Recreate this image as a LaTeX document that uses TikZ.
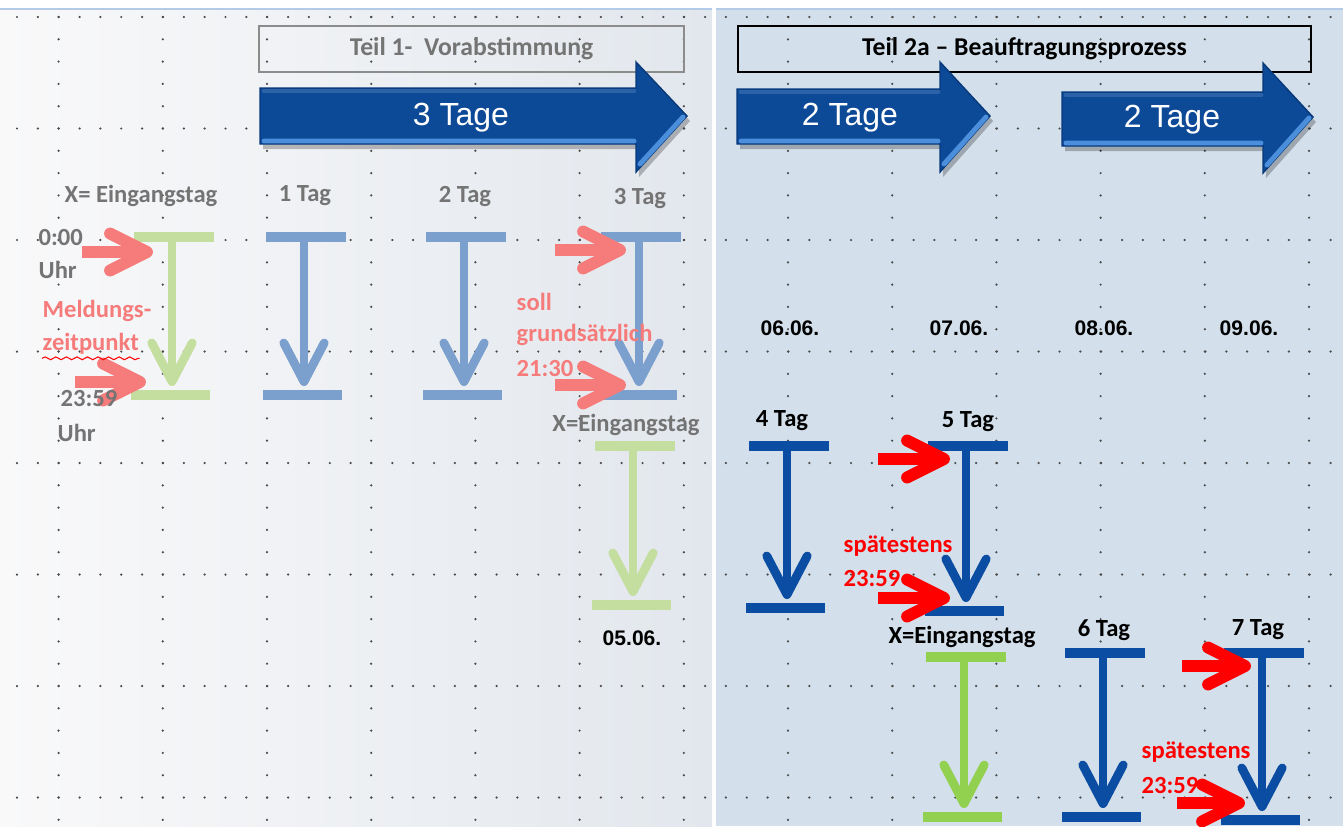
\documentclass[tikz,border=0pt]{standalone}
\usepackage{fontspec}
\setmainfont{Carlito}
\newfontfamily\arialfont{Liberation Sans}
\usetikzlibrary{arrows.meta,calc,decorations.pathmorphing}
\definecolor{hellblau}{HTML}{7BA0CD}
\definecolor{hellgruen}{HTML}{C3DE9F}
\definecolor{gruen}{HTML}{92D050}
\definecolor{dunkelblau}{HTML}{0B4DA2}
\definecolor{lachs}{HTML}{F67C7C}
\definecolor{grau}{HTML}{747474}
\definecolor{kopfgrau}{HTML}{8C8C8C}
\definecolor{panelhell}{HTML}{F9F9FA}
\definecolor{panellinks}{HTML}{E2E7ED}
\definecolor{panelrechts}{HTML}{D3DFEA}
\definecolor{randblau}{HTML}{B3CBE6}
\definecolor{pfeilmitte}{HTML}{0C4997}
\definecolor{pfeilrand}{HTML}{08397A}
\definecolor{pfeilhell}{HTML}{4A8EDC}
\definecolor{pfeiloben}{HTML}{2B62A8}
\definecolor{punkt}{HTML}{4A4A4A}

\tikzset{
  balken/.style={line width=2.9pt, draw=#1},
  stiel/.style={line width=2.5pt, draw=#1, -{Straight Barb[length=11pt,width=11.5pt,round]}},
  kurz/.style={line width=3.4pt, draw=#1, -{Straight Barb[length=10.5pt,width=10.5pt,round]}},
  lbl/.style={inner sep=0pt, text=#1, font=\bfseries\fontsize{7}{8.5}\selectfont},
  lbl/.default=grau,
  fett/.style={inner sep=0pt, text=black, font=\bfseries\fontsize{7}{8.5}\selectfont},
  kopf/.style={inner sep=0pt, line width=0.6pt, font=\bfseries\fontsize{7.3}{8.5}\selectfont},
  tage/.style={inner sep=0pt, text=white, font=\arialfont\fontsize{9.1}{10}\selectfont},
  datum/.style={inner sep=0pt, text=black, font=\arialfont\bfseries\fontsize{6}{7}\selectfont},
  grosspfeil/.style={fill=pfeilmitte, draw=pfeilrand, line width=0.4pt},
  kante/.style={pfeilhell, line width=1.4pt, line cap=round},
  oberkante/.style={pfeiloben, line width=1.4pt, line cap=round},
  schatten/.style={fill=black, opacity=.25}
}

\begin{document}
\begin{tikzpicture}[x=0.01cm,y=-0.01cm]
\useasboundingbox (0,0) rectangle (1343,826);

% Hintergrund
\fill[white] (0,0) rectangle (1343,826);
\shade[left color=panelhell, right color=panellinks] (0,9) rectangle (712,826);
\fill[panelrechts] (716,9) rectangle (1343,826);
\draw[randblau, line width=0.6pt] (0,9) -- (712,9);
\draw[randblau, line width=0.6pt] (716,9) -- (1343,9);

% Raster
\foreach \i in {0,...,7}
  \foreach \k in {0,...,63}
    \fill[punkt] (17+20.85*\k,17+111.5*\i) circle (0.35pt);
\foreach \j in {0,...,12}
  \foreach \m in {0,...,36}
    \fill[punkt] (58.6+104.2*\j,17+22.3*\m) circle (0.35pt);

% Kopfzeilen
\node[kopf, draw=kopfgrau, text=grau, minimum width=4.25cm, minimum height=0.46cm] (teil1) at (471.5,49) {Teil 1-\ \ Vorabstimmung};
\node[kopf, draw=black, text=black, minimum width=5.73cm, minimum height=0.46cm] (teil2a) at (1024.5,49) {Teil 2a – Beauftragungsprozess};

% grosse Pfeile
\fill[schatten, shift={(3,5)}] (260,88) -- (636,88) -- (636,62) -- (687,116) -- (636,172) -- (636,144) -- (260,144) -- cycle;
\filldraw[grosspfeil] (260,88) -- (636,88) -- (636,62) -- (687,116) -- (636,172) -- (636,144) -- (260,144) -- cycle;
\draw[oberkante] (264,91) -- (634,91);
\draw[kante] (264,141) -- (634,141) (640,164) -- (683,117);
\node[tage] (tage3) at (461,118) {3 Tage};

\fill[schatten, shift={(3,5)}] (737,89) -- (940,89) -- (940,62) -- (990,116) -- (940,172) -- (940,144) -- (737,144) -- cycle;
\filldraw[grosspfeil] (737,89) -- (940,89) -- (940,62) -- (990,116) -- (940,172) -- (940,144) -- (737,144) -- cycle;
\draw[oberkante] (741,92) -- (938,92);
\draw[kante] (741,141) -- (938,141) (944,164) -- (986,117);
\node[tage] (tage2a) at (850,118) {2 Tage};

\fill[schatten, shift={(3,5)}] (1062,92) -- (1263,92) -- (1263,63) -- (1313,117) -- (1263,173) -- (1263,146) -- (1062,146) -- cycle;
\filldraw[grosspfeil] (1062,92) -- (1263,92) -- (1263,63) -- (1313,117) -- (1263,173) -- (1263,146) -- (1062,146) -- cycle;
\draw[oberkante] (1066,95) -- (1261,95);
\draw[kante] (1066,143) -- (1261,143) (1267,165) -- (1309,118);
\node[tage] (tage2b) at (1172,120) {2 Tage};

% Tage als Balken mit Pfeil
\foreach \nm/\xx/\ya/\yb/\fa in {g1/172/237/395/hellgruen, b1/304/237/395/hellblau,
    b2/464/237/395/hellblau, b3/639/237/395/hellblau, g2/633/446/605/hellgruen,
    t4/787/446/608/dunkelblau, t5/966/446/611/dunkelblau, g3/964/657/817/gruen,
    t6/1103/653/817/dunkelblau, t7/1262/653/820/dunkelblau}{
  \coordinate (\nm oben) at (\xx,\ya);
  \coordinate (\nm unten) at (\xx,\yb);
  \draw[balken=\fa] ($(\nm oben)+(-38,0)$) -- ($(\nm oben)+(42,0)$);
  \draw[balken=\fa] ($(\nm unten)+(-41,0)$) -- ($(\nm unten)+(38,0)$);
  \draw[stiel=\fa] (\nm oben) -- ($(\nm unten)+(0,-9)$);
}

% kurze Pfeile
\foreach \nm/\xa/\xb/\yy/\fa in {s1/82/153/252/lachs, s2/75/146/382/lachs,
    s3/555/626/250/lachs, s4/555/626/385/lachs, r1/878/950/459/red,
    r2/878/950/598/red, r3/1182/1251/666/red, r4/1177/1245/803/red}{
  \coordinate (\nm a) at (\xa,\yy);
  \coordinate (\nm b) at (\xb,\yy);
  \draw[kurz=\fa] (\nm a) -- (\nm b);
}

% Beschriftung Teil 1
\node[lbl] (xtag) at (141,196) {X= Eingangstag};
\node[lbl] (tag1) at (305,196) {1 Tag};
\node[lbl] (tag2) at (465,196) {2 Tag};
\node[lbl] (tag3) at (640,198) {3 Tag};
\node[lbl, anchor=west] (null) at (38,237) {0:00};
\node[lbl, anchor=west] (uhr1) at (38,270) {Uhr};
\node[lbl=lachs, anchor=west] (meld) at (42,311) {Meldungs-};
\node[lbl=lachs, anchor=west] (zeit) at (42,344) {zeitpunkt};
\draw[red, line width=0.3pt, decorate, decoration={snake, amplitude=0.4pt, segment length=3pt}]
  ($(zeit.south west)+(0,3)$) -- ($(zeit.south east)+(0,3)$);
\node[lbl, anchor=west] (ende) at (60,398) {23:59};
\node[lbl, anchor=west] (uhr2) at (57,433) {Uhr};
\node[lbl=lachs, anchor=west] (soll) at (516,302) {soll};
\node[lbl=lachs, anchor=west] (grund) at (516,335) {grundsätzlich};
\node[lbl=lachs, anchor=west] (zeit2130) at (516,368) {21:30};
\node[lbl] (xtag2) at (626,425) {X=Eingangstag};
\node[datum] (d05) at (632,638) {05.06.};

% Beschriftung Teil 2a
\node[datum] (d06) at (790,328) {06.06.};
\node[datum] (d07) at (959,328) {07.06.};
\node[datum] (d08) at (1104,328) {08.06.};
\node[datum] (d09) at (1249,328) {09.06.};
\node[fett] (tag4) at (782,421) {4 Tag};
\node[fett] (tag5) at (968,422) {5 Tag};
\node[lbl=red, anchor=west] (spaet1) at (843,546) {spätestens};
\node[lbl=red, anchor=west] (uhr2359a) at (843,578) {23:59};
\node[fett] (xtag3) at (962,637) {X=Eingangstag};
\node[fett] (tag6) at (1104,630) {6 Tag};
\node[fett] (tag7) at (1258,630) {7 Tag};
\node[lbl=red, anchor=west] (spaet2) at (1141,752) {spätestens};
\node[lbl=red, anchor=west] (uhr2359b) at (1141,785) {23:59};
\end{tikzpicture}
\end{document}
